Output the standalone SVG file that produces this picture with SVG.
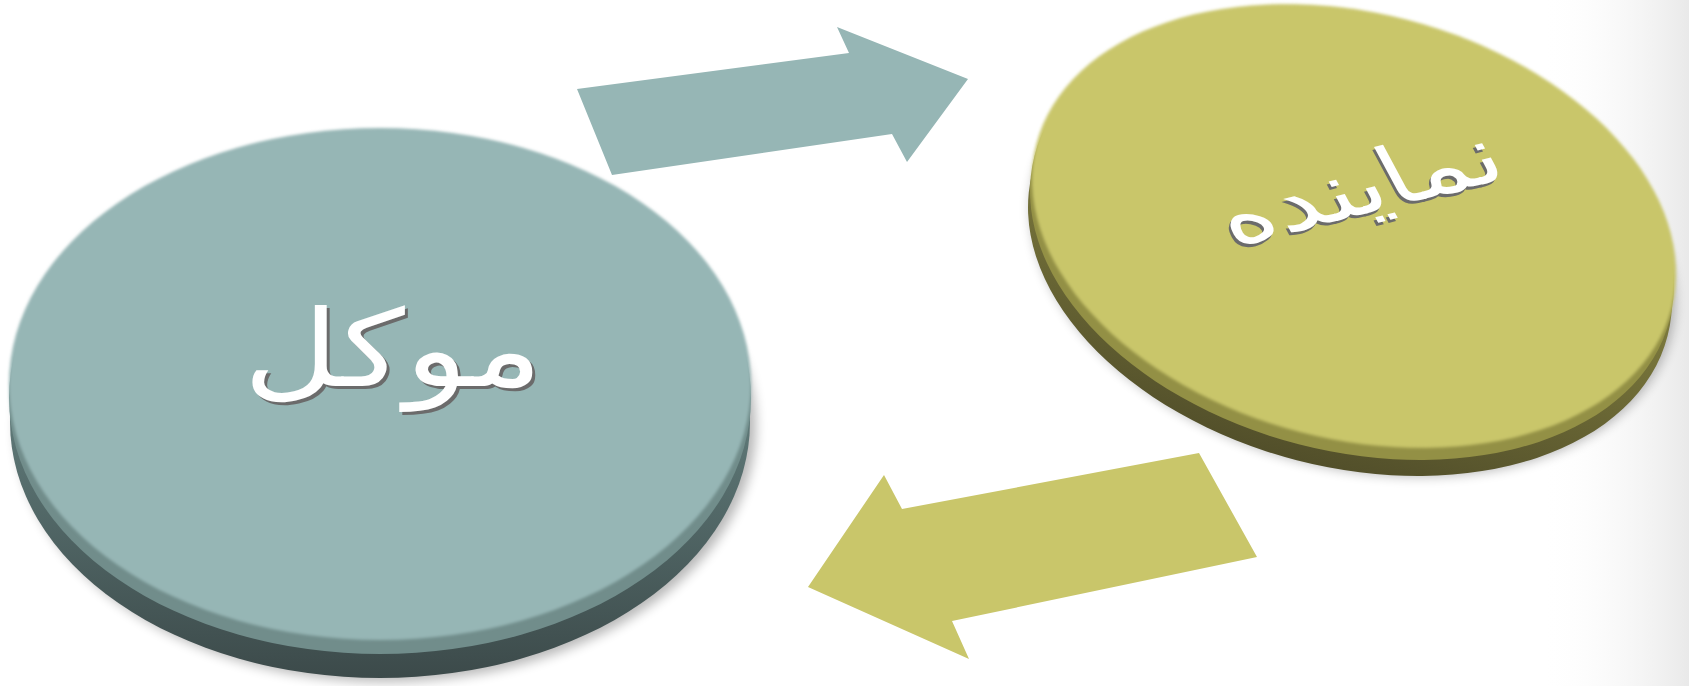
<svg xmlns="http://www.w3.org/2000/svg" width="1689" height="686" viewBox="0 0 1689 686">
  <defs>
    <linearGradient id="bgRight" x1="0" y1="0" x2="1" y2="0">
      <stop offset="0" stop-color="#ffffff" stop-opacity="0"/>
      <stop offset="1" stop-color="#e9e9e9"/>
    </linearGradient>
    <linearGradient id="tealSide" x1="0" y1="0" x2="0" y2="1">
      <stop offset="0.5" stop-color="#5e7877"/>
      <stop offset="1" stop-color="#3c4a4a"/>
    </linearGradient>
    <linearGradient id="oliveSide" x1="0" y1="0" x2="0" y2="1">
      <stop offset="0.5" stop-color="#7a773c"/>
      <stop offset="1" stop-color="#524f2a"/>
    </linearGradient>
    <filter id="blur" x="-20%" y="-20%" width="140%" height="140%">
      <feGaussianBlur stdDeviation="6"/>
    </filter>
    <filter id="soft" x="-5%" y="-5%" width="110%" height="110%">
      <feGaussianBlur stdDeviation="1.5"/>
    </filter>
  </defs>
  <style>
    .teal { fill: #96b6b5; }
    .tealMid { fill: #718d8b; }
    .olive { fill: #c9c66a; }
    .oliveMid { fill: #939045; }
    .shadow { fill: #000000; opacity: 0.28; }
    .lbl { font-family: "DejaVu Sans", sans-serif; text-anchor: middle; }
    .lblFront { fill: #ffffff; }
    .lblBack { fill: #6b6b6b; }
  </style>

  <rect x="0" y="0" width="1689" height="686" fill="#ffffff"/>
  <rect x="1540" y="0" width="149" height="686" fill="url(#bgRight)"/>

  <g id="node-movakkel">
    <ellipse class="shadow" cx="386" cy="426" rx="370" ry="256" filter="url(#blur)"/>
    <ellipse cx="380" cy="422" rx="370" ry="256" fill="url(#tealSide)"/>
    <ellipse class="tealMid" cx="380" cy="398" rx="371" ry="256"/>
    <ellipse class="teal" cx="380" cy="384" rx="371" ry="256" filter="url(#soft)"/>
    <g transform="translate(393 386) scale(1.17 0.95)">
      <text class="lbl lblBack" x="2.5" y="3" font-size="112">موکل</text>
      <text class="lbl lblFront" x="0" y="0" font-size="112">موکل</text>
    </g>
  </g>

  <g id="node-namayandeh">
    <g transform="translate(1354 226) rotate(14.5)">
      <ellipse class="shadow" cx="6" cy="28" rx="328" ry="213" filter="url(#blur)"/>
    </g>
    <g transform="translate(1350 254) rotate(14.5)">
      <ellipse cx="0" cy="0" rx="328" ry="213" fill="url(#oliveSide)"/>
    </g>
    <g transform="translate(1352 238) rotate(14.5)">
      <ellipse class="oliveMid" cx="0" cy="0" rx="328" ry="213"/>
    </g>
    <g transform="translate(1354 226) rotate(14.5)">
      <ellipse class="olive" cx="0" cy="0" rx="328" ry="213" filter="url(#soft)"/>
    </g>
    <g transform="matrix(1.04 -0.26 0.42 0.78 1372 212)">
      <text class="lbl lblBack" x="-3" y="3" font-size="96">نماینده</text>
      <text class="lbl lblFront" x="0" y="0" font-size="96">نماینده</text>
    </g>
  </g>

  <g id="connectors">
    <polygon class="teal" points="577,89 849,53 837,27 968,79 907,162 892,134 612,175"/>
    <polygon class="olive" points="1199,453 1257,557 952,621 969,659 808,587 884,475 902,509"/>
  </g>
</svg>
